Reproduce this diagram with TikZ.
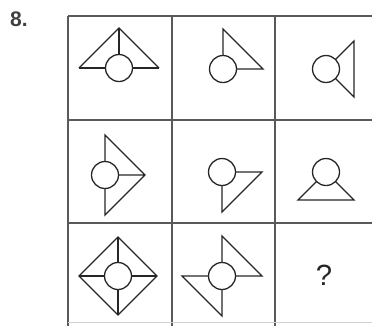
\documentclass[tikz,border=0pt]{standalone}
\usepackage{fontspec}
\setmainfont{Liberation Sans}
\begin{document}
\begin{tikzpicture}[x=0.03cm, y=-0.03cm,
	rule/.style={gray!70!black, line width=0.9pt},
	fig/.style={black!85, line width=1.1pt, line join=miter},
	ring/.style={fig, fill=white}]
	\useasboundingbox (0,0) rectangle (372,326);
	% grid
	\foreach \y in {16,120,223} \draw[rule] (68,\y) -- (372,\y);
	\foreach \x in {68,172,275} \draw[rule] (\x,16) -- (\x,326);
	\draw[gray!35, line width=0.6pt] (68,322) -- (372,322);
	\node[font=\bfseries\fontsize{18}{20}\selectfont, text=black!75] (num) at (19,19) {8.};
	% row 1
	\coordinate (c11) at (119,68);
	\coordinate (c12) at (223,69);
	\coordinate (c13) at (326,69);
	\draw[fig] (c11) ++(-40,0) -- ++(80,0) (c11) -- ++(0,-40);
	\draw[fig] (c11) ++(-40,0) -- ++(40,-40) -- ++(40,40);
	\draw[fig] (c12) -- ++(0,-40) -- ++(40,40) -- (c12);
	\draw[fig] (c13) -- ++(28,-28) -- ++(0,56) -- (c13);
	% row 2
	\coordinate (c21) at (105,175);
	\coordinate (c22) at (222,172);
	\coordinate (c23) at (326,172);
	\draw[fig] (c21) -- ++(0,-40) -- ++(40,40) -- ++(-40,40) -- (c21) (c21) -- ++(40,0);
	\draw[fig] (c22) -- ++(40,0) -- ++(-40,40) -- (c22);
	\draw[fig] (c23) -- ++(-28,28) -- ++(56,0) -- (c23);
	% row 3
	\coordinate (c31) at (118,276);
	\coordinate (c32) at (222,276);
	\draw[fig] (c31) ++(0,-39) -- ++(39,39) -- ++(-39,39) -- ++(-39,-39) -- cycle;
	\draw[fig] (c31) ++(-39,0) -- ++(78,0) (c31) ++(0,-39) -- ++(0,78);
	\draw[fig] (c32) -- ++(0,-40) -- ++(40,40) -- (c32);
	\draw[fig] (c32) -- ++(-40,0) -- ++(40,40) -- (c32);
	\foreach \c in {c11,c12,c13,c21,c22,c23,c31,c32}
		\draw[ring] (\c) circle[radius=13.5];
	\node[font=\fontsize{25}{28}\selectfont, text=black!85] (ask) at (324,275) {?};
\end{tikzpicture}
\end{document}
